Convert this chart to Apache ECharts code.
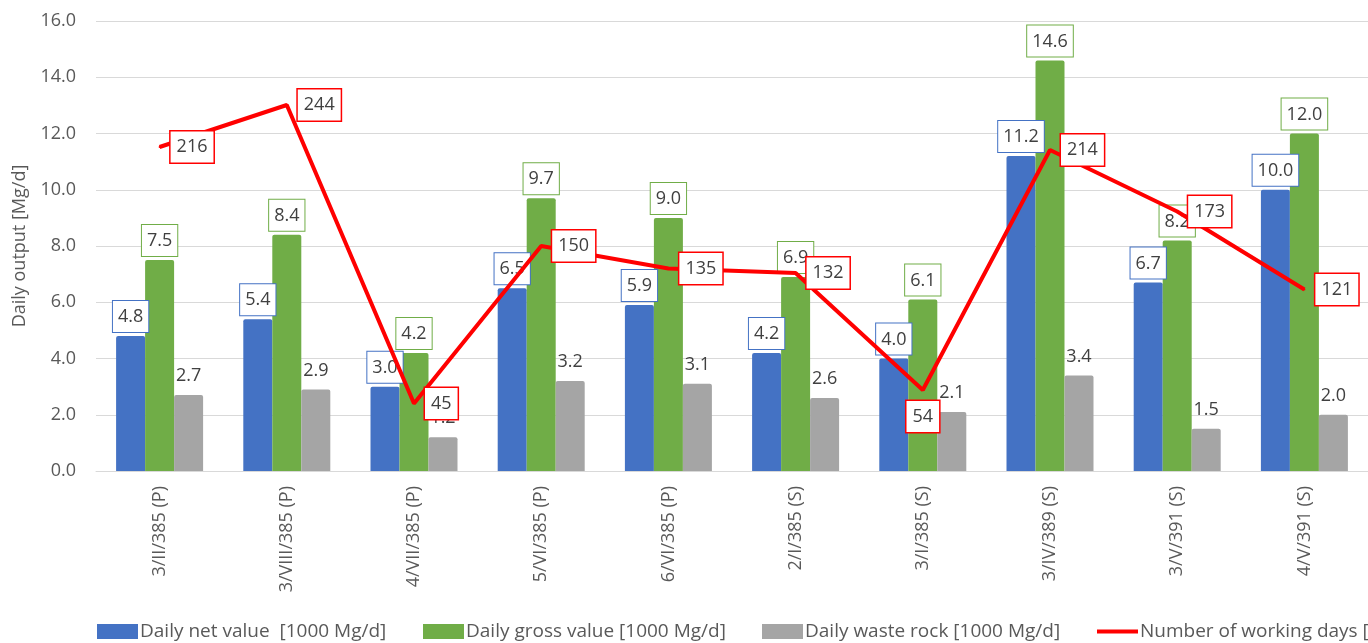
<!DOCTYPE html>
<html>
<head>
<meta charset="utf-8">
<script src="https://cdn.jsdelivr.net/npm/echarts@6/dist/echarts.min.js"></script>
<style>
  html, body { margin: 0; padding: 0; background: #fff; }
  #chart { width: 1368px; height: 643px; }
</style>
</head>
<body>
<div id="chart"></div>
<script>
// Sites / headings
const categories = [
  '3/II/385 (P)', '3/VIII/385 (P)', '4/VII/385 (P)', '5/VI/385 (P)', '6/VI/385 (P)',
  '2/I/385 (S)', '3/I/385 (S)', '3/IV/389 (S)', '3/V/391 (S)', '4/V/391 (S)'
];
// Daily output, thousand Mg per day
const netValue   = [4.8, 5.4, 3.0, 6.5, 5.9, 4.2, 4.0, 11.2, 6.7, 10.0];
const grossValue = [7.5, 8.4, 4.2, 9.7, 9.0, 6.9, 6.1, 14.6, 8.2, 12.0];
const wasteRock  = [2.7, 2.9, 1.2, 3.2, 3.1, 2.6, 2.1, 3.4, 1.5, 2.0];
// Number of working days
const workingDays = [216, 244, 45, 150, 135, 132, 54, 214, 173, 121];
// Label placement for the working-days line
const dayLabelPos = ['right', 'right', 'right', 'right', 'right', 'right', 'bottom', 'right', 'right', 'right'];

const seriesNames = [
  'Daily net value  [1000 Mg/d]',
  'Daily gross value [1000 Mg/d]',
  'Daily waste rock [1000 Mg/d]',
  'Number of working days [-]'
];
const colors = ['#4472C4', '#70AD47', '#A5A5A5', '#FF0000'];

const FONT = '"Open Sans", "Noto Sans", sans-serif';
const TEXT = '#404040';
const AXIS_TEXT = '#595959';

function boxLabel(borderColor) {
  return {
    show: true,
    position: 'top',
    distance: 4,
    fontFamily: FONT,
    fontSize: 18,
    color: TEXT,
    backgroundColor: borderColor ? '#fff' : 'transparent',
    borderColor: borderColor || 'transparent',
    borderWidth: borderColor ? 1 : 0,
    padding: [6, 5, 5, 5],
    lineHeight: 20,
    formatter: p => Number(p.value).toFixed(1)
  };
}

function barSeries(idx, values, labelBorder) {
  return {
    name: seriesNames[idx],
    type: 'bar',
    data: values,
    barWidth: 29,
    barGap: '0%',
    itemStyle: { color: colors[idx], borderRadius: [2, 2, 0, 0] },
    label: boxLabel(labelBorder),
    emphasis: { disabled: true }
  };
}

function legendAt(left, idx, isLine) {
  return {
    left: left,
    top: 622,
    padding: 0,
    itemWidth: 41,
    itemHeight: isLine ? 4 : 15,
    itemGap: 0,
    icon: 'rect',
    textStyle: { fontFamily: FONT, fontSize: 19, color: AXIS_TEXT, padding: [0, 0, 0, -3] },
    data: [{ name: seriesNames[idx], icon: 'rect' }],
    selectedMode: false
  };
}

const chart = echarts.init(document.getElementById('chart'));
chart.setOption({
  animation: false,
  backgroundColor: '#fff',
  grid: { left: 96, top: 21, width: 1280, height: 450, containLabel: false },
  legend: [
    legendAt(97, 0, false),
    legendAt(423, 1, false),
    legendAt(762, 2, false),
    legendAt(1097, 3, true)
  ],
  xAxis: {
    type: 'category',
    data: categories,
    axisTick: { show: false },
    axisLine: { lineStyle: { color: '#D9D9D9', width: 1 } },
    axisLabel: {
      rotate: 90,
      margin: 15,
      fontFamily: FONT,
      fontSize: 18,
      color: AXIS_TEXT,
      interval: 0
    }
  },
  yAxis: [
    {
      type: 'value',
      min: 0,
      max: 16,
      interval: 2,
      name: 'Daily output [Mg/d]',
      nameLocation: 'middle',
      nameGap: 67,
      nameTextStyle: { fontFamily: FONT, fontSize: 18, color: AXIS_TEXT },
      axisLine: { show: false },
      axisTick: { show: false },
      splitLine: { lineStyle: { color: '#D9D9D9', width: 1 } },
      axisLabel: {
        margin: 20,
        fontFamily: FONT,
        fontSize: 18,
        color: AXIS_TEXT,
        formatter: v => v.toFixed(1)
      }
    },
    {
      type: 'value',
      min: 0,
      max: 300,
      show: false,
      splitLine: { show: false }
    }
  ],
  series: [
    barSeries(0, netValue, colors[0]),
    barSeries(1, grossValue, colors[1]),
    barSeries(2, wasteRock, null),
    {
      name: seriesNames[3],
      type: 'line',
      yAxisIndex: 1,
      z: 5,
      data: workingDays.map((v, i) => ({
        value: v,
        label: { position: dayLabelPos[i] }
      })),
      symbol: 'circle',
      symbolSize: 2,
      itemStyle: { color: colors[3] },
      lineStyle: { color: colors[3], width: 4 },
      label: {
        show: true,
        distance: 10,
        fontFamily: FONT,
        fontSize: 18,
        color: TEXT,
        backgroundColor: '#fff',
        borderColor: colors[3],
        borderWidth: 1.5,
        padding: [6, 6, 5, 6],
        lineHeight: 20,
        formatter: p => String(p.value)
      },
      emphasis: { disabled: true }
    }
  ]
});
</script>
</body>
</html>
